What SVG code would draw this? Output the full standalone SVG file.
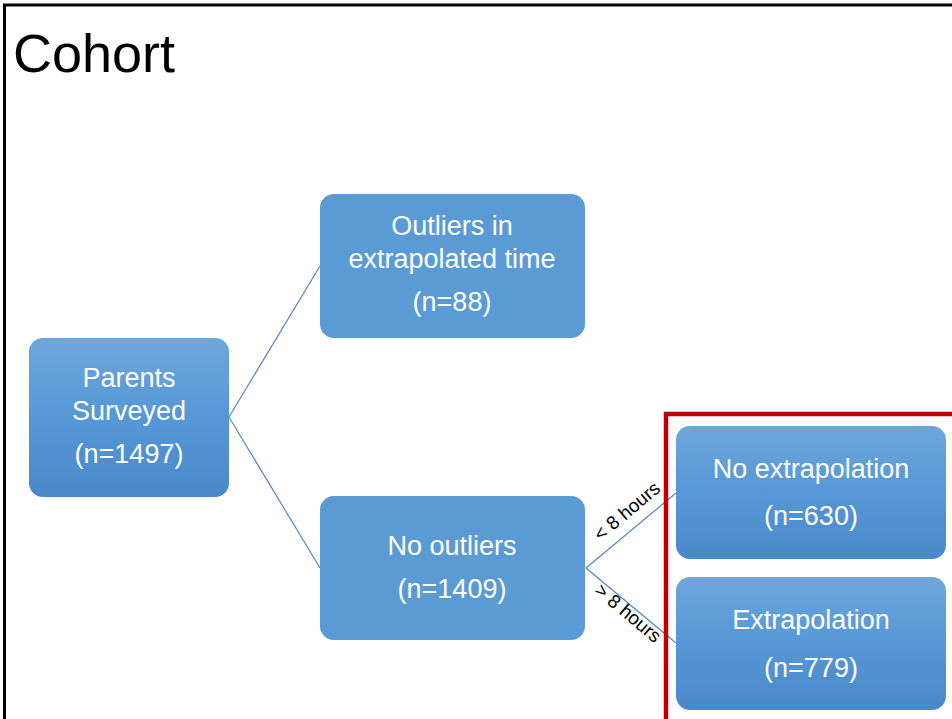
<svg xmlns="http://www.w3.org/2000/svg" width="952" height="719" viewBox="0 0 952 719">
<defs>
<linearGradient id="g" x1="0" y1="0" x2="0" y2="1">
<stop offset="0" stop-color="#6fa6dc"/>
<stop offset="0.5" stop-color="#5597d7"/>
<stop offset="1" stop-color="#4a88c9"/>
</linearGradient>
<style>
.box{stroke:none}
.flat{fill:#5b9bd5}
.grad{fill:url(#g)}
.t{font-family:"Liberation Sans",Arial,sans-serif;font-size:27px;fill:#ffffff;text-anchor:middle}
.lbl{font-family:"Liberation Sans",Arial,sans-serif;font-size:19px;fill:#000000;text-anchor:middle}
.c{stroke:#4f86c6;stroke-width:1.2;fill:none}
</style>
</defs>
<rect x="0" y="0" width="952" height="719" fill="#ffffff"/>
<path d="M4.5 719 V5 H952" fill="none" stroke="#000" stroke-width="3"/>
<text x="13" y="72" font-family="Liberation Sans,Arial,sans-serif" font-size="54" fill="#000">Cohort</text>
<g id="connectors">
<line class="c" x1="229" y1="417" x2="320" y2="266"/>
<line class="c" x1="229" y1="417" x2="320" y2="568"/>
<line class="c" x1="586" y1="568" x2="676" y2="493"/>
<line class="c" x1="586" y1="568" x2="676" y2="643"/>
<text class="lbl" transform="translate(631,516) rotate(-40)">&lt; 8 hours</text>
<text class="lbl" transform="translate(624,618) rotate(40)">&gt; 8 hours</text>
</g>
<g id="parents">
<rect class="box grad" x="29" y="338" width="200" height="159" rx="14"/>
<text class="t" x="129" y="387">Parents</text>
<text class="t" x="129" y="420">Surveyed</text>
<text class="t" x="129" y="463">(n=1497)</text>
</g>
<g id="outliers">
<rect class="box flat" x="320" y="194" width="265" height="144" rx="14"/>
<text class="t" x="452" y="235">Outliers in</text>
<text class="t" x="452" y="268">extrapolated time</text>
<text class="t" x="452" y="311">(n=88)</text>
</g>
<g id="no-outliers">
<rect class="box flat" x="320" y="496" width="265" height="144" rx="14"/>
<text class="t" x="452" y="555">No outliers</text>
<text class="t" x="452" y="598">(n=1409)</text>
</g>
<g id="no-extrapolation">
<rect class="box grad" x="676" y="426" width="270" height="133" rx="14"/>
<text class="t" x="811" y="478">No extrapolation</text>
<text class="t" x="811" y="525">(n=630)</text>
</g>
<g id="extrapolation">
<rect class="box grad" x="676" y="577" width="270" height="133" rx="14"/>
<text class="t" x="811" y="629">Extrapolation</text>
<text class="t" x="811" y="677">(n=779)</text>
</g>
<path id="highlight" d="M666 719 V414 H952" fill="none" stroke="#c00000" stroke-width="4.5"/>
</svg>
